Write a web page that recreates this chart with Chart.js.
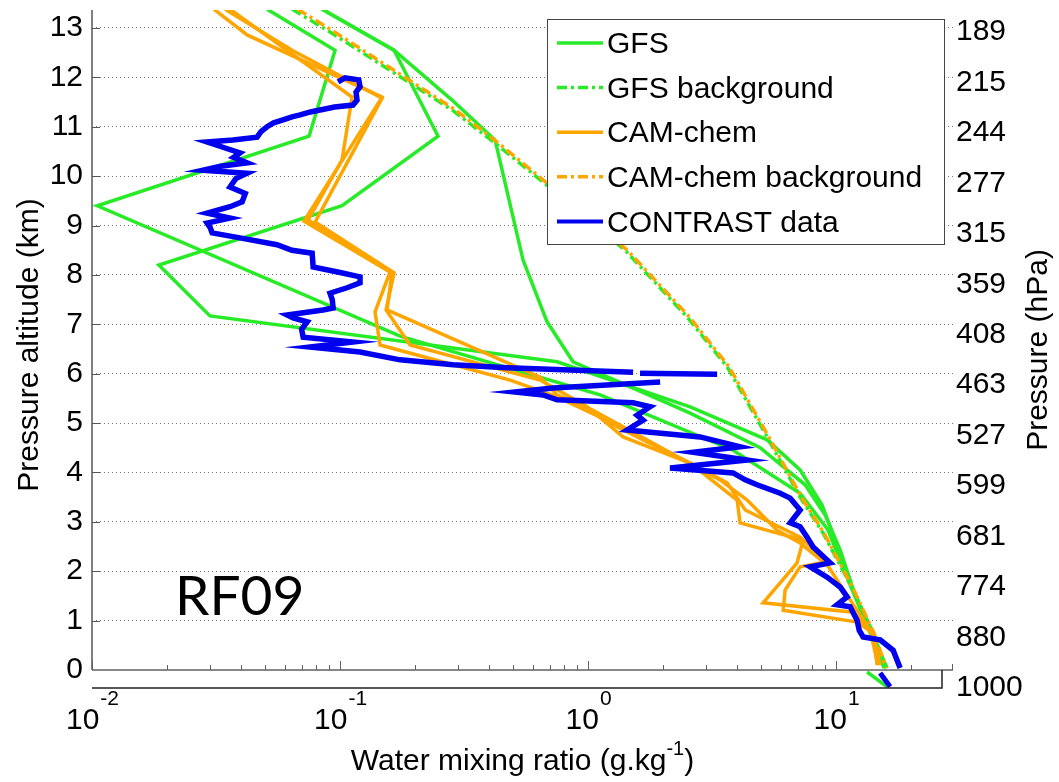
<!DOCTYPE html>
<html>
<head>
<meta charset="utf-8">
<script src="https://cdn.jsdelivr.net/npm/chart.js@4.4.1/dist/chart.umd.min.js"></script>
<style>
  html, body { margin: 0; padding: 0; background: #fff; overflow: hidden; }
  canvas { display: block; }
</style>
</head>
<body>
<canvas id="profileChart" width="1059" height="782"></canvas>
<script>
// water mixing ratio (g/kg) against pressure altitude (km), flight RF09

// GFS profiles
const gfsAltA = [13.38, 12.55, 10.81, 9.40, 6.76, 5.57, 4.45, 3.58, 2.83, 1.82, 0.85, 0.04];
const gfsA    = [0.0508, 0.0955, 0.0750, 0.0105, 0.1746, 1.118, 3.844, 7.16, 9.29, 11.18, 13.46, 15.61];
const gfsAltB = [13.38, 12.55, 10.81, 9.40, 8.20, 7.17, 6.24, 5.33, 4.66, 4.05, 3.34, 2.63, 1.62, 0.71, 0.04];
const gfsB    = [0.0847, 0.1651, 0.2484, 0.1019, 0.0186, 0.0299, 0.750, 2.579, 5.27, 7.16, 8.78, 9.91, 11.71, 13.97, 16.06];
const gfsAltC = [13.38, 12.55, 11.54, 10.73, 8.30, 7.05, 6.24, 5.20, 4.50, 3.75, 3.14, 2.43, 1.52, 0.65, 0.04];
const gfsC    = [0.0847, 0.1651, 0.2829, 0.4219, 0.5469, 0.6835, 0.870, 2.579, 4.94, 7.50, 9.03, 10.38, 11.93, 14.10, 15.91];
const gfsAltLow = [-0.04, -0.34];
const gfsLow    = [13.34, 16.06];

// background profiles (dash-dot)
const bgAlt   = [13.38, 12.92, 11.34, 10.67, 9.88, 8.50, 7.15, 6.14, 4.72, 3.50, 2.77, 1.62, 0.75, 0.04];
const gfsBg   = [0.0641, 0.0911, 0.2829, 0.4219, 0.6585, 1.410, 2.507, 3.636, 5.27, 7.16, 8.87, 11.71, 14.10, 15.91];
const camBg   = [0.0675, 0.095, 0.292, 0.435, 0.675, 1.44, 2.56, 3.70, 5.35, 7.25, 8.95, 11.8, 14.2, 15.95];

// CAM-chem profiles
const camAlt1 = [13.38, 12.86, 11.60, 9.09, 8.06, 7.25, 6.58, 5.87, 5.53, 5.12, 4.86, 4.19, 3.44, 2.98, 2.63, 2.17, 1.36, 1.17, 0.75, 0.10];
const cam1    = [0.0310, 0.0422, 0.1477, 0.0716, 0.1591, 0.1384, 0.1450, 0.485, 0.750, 1.118, 1.384, 2.579, 3.99, 4.10, 7.365, 6.96, 5.08, 11.71, 14.10, 14.64];
const camAlt2 = [13.38, 12.55, 11.58, 9.07, 8.04, 7.29, 6.58, 5.87, 5.33, 4.72, 4.19, 3.79, 3.24, 2.69, 2.19, 2.09, 1.62, 1.21, 0.97, 0.75, 0.10];
const cam2    = [0.0344, 0.0641, 0.1477, 0.0793, 0.1651, 0.1533, 0.1916, 0.6407, 0.991, 1.384, 2.579, 3.636, 4.30, 7.16, 9.20, 7.16, 6.229, 6.117, 12.15, 14.10, 15.05];
const camAlt3 = [13.38, 11.60, 10.33, 9.11, 8.06, 7.29, 5.93, 5.57, 5.26, 3.85, 3.44, 2.83, 2.57, 2.13, 1.42, 0.81, 0.10];
const cam3    = [0.0360, 0.1118, 0.1019, 0.0743, 0.1621, 0.1547, 0.6407, 0.750, 1.047, 3.405, 4.38, 5.78, 7.16, 9.20, 11.39, 13.71, 14.77];

// CONTRAST aircraft data (null = gap in the record)
const obsAlt = [11.91, 11.99, 11.95, 11.81, 11.70, 11.54, 11.44, 11.40, 11.34, 11.30, 11.24, 11.20, 11.14, 11.08, 11.00, 10.90, 10.79, 10.73, 10.69,
  10.60, 10.47, 10.38, 10.27, 10.20, 10.12, 10.06, 9.95, 9.78, 9.65, 9.48, 9.38, 9.25, 9.15, 9.05, 8.95, 8.85, 8.75, 8.61, 8.50, 8.44, 8.16,
  8.05, 7.96, 7.84, 7.74, 7.63, 7.50, 7.33, 7.29, 7.19, 7.13, 7.05, 6.90, 6.74, 6.64, 6.54, 6.44, 6.28, 6.18, 6.12, 6.03, 6.02, 6.01, 5.99,
  null, 5.83, 5.71, 5.63, 5.57, 5.47, 5.41, 5.33, 5.16, 5.06, 4.86, 4.72, 4.52, 4.41, 4.25, 4.09, 3.99, 3.85, 3.75, 3.58, 3.48, 3.24,
  2.98, 2.90, 2.69, 2.49, 2.17, 2.09, 1.88, 1.68, 1.48, 1.32, 1.28, 1.01, 0.80, 0.67, 0.61, 0.40, 0.04];
const obs = [0.0982, 0.1047, 0.1190, 0.1204, 0.1160, 0.1171, 0.1128, 0.0950, 0.0831, 0.0760, 0.0690, 0.0640, 0.0589, 0.0540, 0.0508, 0.0480, 0.0463, 0.0370, 0.0291,
  0.0330, 0.0395, 0.0372, 0.0422, 0.0330, 0.0280, 0.0422, 0.0380, 0.0360, 0.0415, 0.0403, 0.0360, 0.0291, 0.0360, 0.0291, 0.0300, 0.0305, 0.0395, 0.0557, 0.0640, 0.0772, 0.0779,
  0.1000, 0.1204, 0.1204, 0.1067, 0.0911, 0.0930, 0.0938, 0.0854, 0.0612, 0.0647, 0.0737, 0.0700, 0.0710, 0.1128, 0.0757, 0.1204, 0.1746, 0.2855, 0.4714, 1.519, null, 1.62, 3.314,
  null, 1.952, 0.7227, 0.508, 0.6585, 0.750, 1.519, 1.778, 1.576, 1.666, 1.437, 2.829, 4.10, 2.651, 4.38, 2.141, 3.844, 4.30, 4.80, 5.95, 6.53, 7.16,
  6.53, 7.16, 7.64, 8.08, 9.46, 7.86, 9.20, 10.38, 11.08, 10.09, 11.39, 12.15, 12.40, 12.85, 15.05, 16.98, 18.12];
const obsAltLow = [-0.06, -0.34];
const obsLow    = [15.05, 16.51];

// axes
const altTicks = [0, 1, 2, 3, 4, 5, 6, 7, 8, 9, 10, 11, 12, 13];
const pressTicks = ['1000', '880', '774', '681', '599', '527', '463', '408', '359', '315', '277', '244', '215', '189'];
const xDecades = [-2, -1, 0, 1];

const green = 'rgb(40,235,40)';
const orange = '#ffa500';
const blue = '#0000ee';
const dashDot = [10, 4, 3, 4];
const FONT = '"Liberation Sans", Arial, Helvetica, sans-serif';

function pts(xs, ys) {
  return xs.map((v, i) => ({x: v === null ? NaN : v, y: ys[i] === null ? NaN : ys[i]}));
}

function line(label, xs, ys, color, width, dash, legend) {
  return {
    label: label,
    data: pts(xs, ys),
    showLine: true,
    spanGaps: false,
    borderColor: color,
    backgroundColor: color,
    borderWidth: width,
    borderDash: dash || [],
    pointRadius: 0,
    tension: 0,
    inLegend: legend
  };
}

// first dataset is drawn on top
let datasets = [
  line('CONTRAST data', obs, obsAlt, blue, 5.5, null, true),
  line('', obsLow, obsAltLow, blue, 5, null, false),
  line('CAM-chem background', camBg, bgAlt, orange, 3.5, dashDot, true),
  line('CAM-chem', cam1, camAlt1, orange, 3.5, null, true),
  line('', cam2, camAlt2, orange, 3.5, null, false),
  line('', cam3, camAlt3, orange, 3.5, null, false),
  line('GFS background', gfsBg, bgAlt, green, 3.5, dashDot, true),
  line('GFS', gfsA, gfsAltA, green, 3.5, null, true),
  line('', gfsB, gfsAltB, green, 3.5, null, false),
  line('', gfsC, gfsAltC, green, 3.5, null, false),
  line('', gfsLow, gfsAltLow, green, 3.5, null, false)
];

const legendOrder = ['GFS', 'GFS background', 'CAM-chem', 'CAM-chem background', 'CONTRAST data'];

const decor = {
  id: 'decor',
  afterDraw(chart) {
    const ctx = chart.ctx;
    const area = chart.chartArea;
    const xs = chart.scales.x;
    const ys = chart.scales.y;
    const y0 = ys.getPixelForValue(0);
    ctx.save();

    // left axis
    ctx.strokeStyle = '#808080';
    ctx.lineWidth = 2;
    ctx.beginPath();
    ctx.moveTo(area.left, area.top);
    ctx.lineTo(area.left, y0);
    ctx.stroke();
    ctx.lineWidth = 1;
    ctx.strokeStyle = '#555';
    for (let i = 1; i < altTicks.length; i++) {
      let py = Math.round(ys.getPixelForValue(altTicks[i])) + 0.5;
      ctx.beginPath();
      ctx.moveTo(area.left, py);
      ctx.lineTo(area.left + 8, py);
      ctx.stroke();
    }

    // main bottom axis with log ticks
    ctx.strokeStyle = '#606060';
    ctx.lineWidth = 1.5;
    ctx.beginPath();
    ctx.moveTo(area.left, y0);
    ctx.lineTo(area.right, y0);
    ctx.stroke();
    ctx.lineWidth = 1;
    for (let d = -2; d <= 1; d++) {
      for (let m = 1; m <= 9; m++) {
        let v = m * Math.pow(10, d);
        if (v > xs.max) continue;
        let px = Math.round(xs.getPixelForValue(v)) + 0.5;
        ctx.beginPath();
        ctx.moveTo(px, y0);
        ctx.lineTo(px, y0 - (m === 1 ? 9 : 5));
        ctx.stroke();
      }
    }
    ctx.beginPath();
    ctx.moveTo(area.right - 0.5, y0);
    ctx.lineTo(area.right - 0.5, y0 - 6);
    ctx.stroke();

    // lower (offset) axis
    ctx.strokeStyle = '#222';
    ctx.lineWidth = 1.5;
    ctx.beginPath();
    ctx.moveTo(area.left, area.bottom);
    ctx.lineTo(942, area.bottom);
    ctx.lineTo(942, y0);
    ctx.stroke();

    // x tick labels 10^n
    ctx.fillStyle = '#000';
    ctx.textBaseline = 'alphabetic';
    ctx.textAlign = 'left';
    for (let i = 0; i < xDecades.length; i++) {
      let px = xs.getPixelForValue(Math.pow(10, xDecades[i]));
      ctx.font = '30px ' + FONT;
      let wb = ctx.measureText('10').width;
      ctx.font = '21px ' + FONT;
      let sup = String(xDecades[i]);
      let ws = ctx.measureText(sup).width;
      let start = px - (wb + ws) / 2;
      ctx.font = '30px ' + FONT;
      ctx.fillText('10', start, 729);
      ctx.font = '21px ' + FONT;
      ctx.fillText(sup, start + wb + 1, 705);
    }

    // x title
    ctx.font = '30px ' + FONT;
    let t1 = 'Water mixing ratio (g.kg';
    let w1 = ctx.measureText(t1).width;
    let w3 = ctx.measureText(')').width;
    ctx.font = '20px ' + FONT;
    let w2 = ctx.measureText('-1').width;
    let tx = (area.left + area.right) / 2 - (w1 + w2 + w3) / 2;
    ctx.font = '30px ' + FONT;
    ctx.fillText(t1, tx, 770);
    ctx.fillText(')', tx + w1 + w2, 770);
    ctx.font = '20px ' + FONT;
    ctx.fillText('-1', tx + w1, 755);

    // y titles
    ctx.font = '30px ' + FONT;
    ctx.textAlign = 'center';
    ctx.save();
    ctx.translate(38, 345);
    ctx.rotate(-Math.PI / 2);
    ctx.fillText('Pressure altitude (km)', 0, 0);
    ctx.restore();
    ctx.save();
    ctx.translate(1047, 350);
    ctx.rotate(-Math.PI / 2);
    ctx.fillText('Pressure (hPa)', 0, 0);
    ctx.restore();

    // flight label
    ctx.textAlign = 'left';
    ctx.font = '55px Lato, "Open Sans", sans-serif';
    ctx.fillText('RF09', 175, 615);

    // legend box
    const bx = 547, by = 19, bw = 397, bh = 225;
    ctx.fillStyle = '#fff';
    ctx.fillRect(bx, by, bw, bh);
    ctx.strokeStyle = '#444';
    ctx.lineWidth = 1;
    ctx.strokeRect(bx + 0.5, by + 0.5, bw, bh);
    ctx.font = '30px ' + FONT;
    ctx.textBaseline = 'middle';
    for (let i = 0; i < legendOrder.length; i++) {
      const ds = chart.data.datasets.find(d => d.label === legendOrder[i] && d.inLegend);
      const cy = 43 + i * 44.6;
      ctx.strokeStyle = ds.borderColor;
      ctx.lineWidth = Math.min(ds.borderWidth, 4);
      ctx.setLineDash(ds.borderDash);
      ctx.beginPath();
      ctx.moveTo(557, cy);
      ctx.lineTo(603, cy);
      ctx.stroke();
      ctx.setLineDash([]);
      ctx.fillStyle = '#000';
      ctx.fillText(ds.label, 607, cy + 2);
    }
    ctx.restore();
  }
};

// axis label padding would otherwise push the plot area down
function fixWidth(w) {
  return s => { s.width = w; s.paddingTop = 0; s.paddingBottom = 0; };
}

const chart = new Chart(document.getElementById('profileChart'), {
  type: 'scatter',
  data: { datasets: datasets },
  options: {
    responsive: false,
    animation: false,
    layout: { padding: { top: 10, left: 0, right: 0, bottom: 0 } },
    plugins: {
      legend: { display: false },
      tooltip: { enabled: false }
    },
    scales: {
      x: {
        type: 'logarithmic',
        min: 0.01,
        max: 29.6,
        ticks: { display: false },
        grid: { display: false },
        border: { display: false },
        afterFit: s => { s.height = 94; s.paddingLeft = 0; s.paddingRight = 0; }
      },
      y: {
        type: 'linear',
        position: 'left',
        min: -0.3645,
        max: 13.364,
        afterBuildTicks: s => { s.ticks = altTicks.map(v => ({value: v})); },
        ticks: {
          color: '#000',
          padding: 9,
          font: { family: FONT, size: 30 }
        },
        grid: {
          drawTicks: false,
          lineWidth: 1,
          color: c => (c.tick && c.tick.value === 0) ? 'rgba(0,0,0,0)' : '#777'
        },
        border: { display: false, dash: [1, 3] },
        afterFit: fixWidth(92)
      },
      y2: {
        type: 'linear',
        position: 'right',
        min: 0,
        max: 13.436,
        afterBuildTicks: s => { s.ticks = altTicks.map(v => ({value: v})); },
        ticks: {
          color: '#000',
          padding: 3,
          font: { family: FONT, size: 30 },
          callback: (v) => pressTicks[Math.round(v)]
        },
        grid: { display: false, drawTicks: false },
        border: { display: false },
        afterFit: fixWidth(106)
      }
    }
  },
  plugins: [decor]
});
</script>
</body>
</html>
